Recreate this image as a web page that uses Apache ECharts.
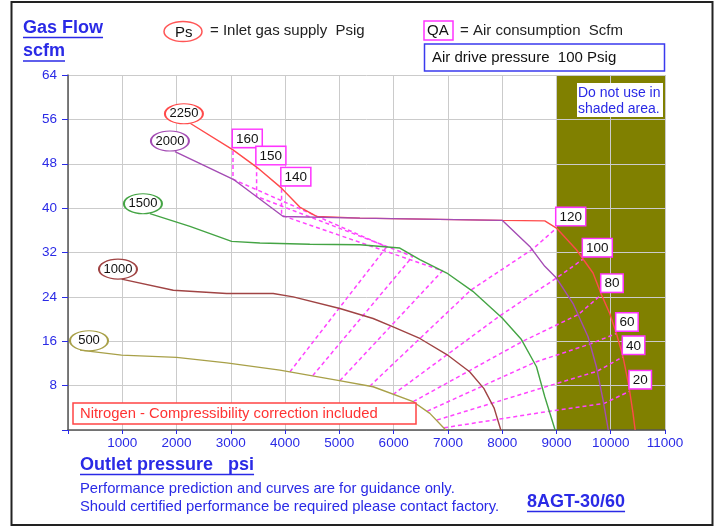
<!DOCTYPE html>
<html><head><meta charset="utf-8">
<script src="https://cdn.jsdelivr.net/npm/echarts@6/dist/echarts.min.js"></script>
<style>html,body{margin:0;padding:0;background:#fff}#c{width:720px;height:527px}</style>
</head><body><div id="c"></div>
<script>
// ---------- DATA ----------
const xMin = 0, xMax = 11000, xStep = 1000;
const yMin = 0, yMax = 64, yStep = 8;
const shadeX = [9000, 11000];

const psValues = [2250, 2000, 1500, 1000, 500];
const psColors = ['#ff4a4a', '#a44cb4', '#44a444', '#a04444', '#a8a048'];
const psLabelPos = [[2136, 57.0], [1878, 52.1], [1381, 40.8], [921, 29.0], [387, 16.1]];

const ps2250 = [[2250,55.3],[3040,50.5],[3475,47.4],[3935,43.6],[4270,40.2],[4580,38.5],[5380,38.2],[8000,37.8],[8785,37.7],[9000,36.4],[9368,32.5],[9674,28.3],[9829,24.4],[9982,21.0],[10105,17.4],[10227,13.2],[10337,7.8],[10411,3.0],[10450,0]];
const ps2000 = [[1971,50.2],[3045,45.2],[3965,38.5],[5380,38.2],[8000,37.8],[8508,33.1],[8785,29.5],[9000,27.4],[9306,22.8],[9582,16.8],[9736,11.4],[9859,5.4],[9955,0]];
const ps1500 = [[1510,39.0],[2247,36.7],[3015,34.0],[3536,33.7],[4457,33.5],[5378,33.4],[6114,32.8],[6483,30.7],[6980,28.3],[7459,25.0],[8000,20.2],[8355,16.3],[8632,11.4],[8785,6.0],[8975,0]];
const ps1000 = [[988,27.2],[1940,25.2],[2922,24.6],[3781,24.6],[4150,24.0],[5009,21.9],[5622,20.1],[5991,18.6],[6483,16.5],[6980,13.6],[7400,10.5],[7661,7.5],[7850,4.0],[7975,0]];
const ps500  = [[221,14.4],[988,13.5],[2000,13.1],[2922,12.1],[3904,10.8],[4948,9.0],[5622,7.8],[6360,5.1],[6667,3.0],[6960,0]];

const qaValues = [160, 150, 140, 120, 100, 80, 60, 40, 20];
const qa160 = [[4090,10.5],[5870,33.0],[3040,45.2],[3040,50.5]];
const qa150 = [[4510,9.8],[6350,31.3],[3475,42.1],[3475,47.4]];
const qa140 = [[5010,8.9],[6900,28.7],[3935,38.7],[3935,43.6]];
const qa120 = [[5560,7.9],[7420,25.2],[8560,32.6],[9000,36.4]];
const qa100 = [[5990,6.4],[7960,20.6],[9000,27.4],[9490,30.8]];
const qa80  = [[6360,5.1],[8380,16.0],[9400,20.8],[9829,24.4]];
const qa60  = [[6620,3.4],[8600,12.2],[9620,15.5],[10105,17.4]];
const qa40  = [[6800,1.8],[8740,7.6],[9752,10.6],[10227,13.2]];
const qa20  = [[6930,0.4],[8880,3.4],[9880,4.8],[10350,7.0]];

// ---------- BUILD ----------
const psCurves = [ps2250, ps2000, ps1500, ps1000, ps500];
const qaLines = [qa160, qa150, qa140, qa120, qa100, qa80, qa60, qa40, qa20];
const BLUE = '#2a2ae6';
const FONT = '"Liberation Sans", Arial, sans-serif';

const series = [];
series.push({
  type: 'line', data: [[shadeX[0], yMax], [shadeX[1], yMax]], symbol: 'none',
  lineStyle: { width: 0 }, areaStyle: { color: '#808000', opacity: 1 }, z: 0, silent: true
});
qaLines.forEach(l => series.push({
  type: 'line', data: l, symbol: 'none', z: 3, silent: true,
  lineStyle: { color: '#ff44ff', width: 1.5, type: [4, 3] }
}));
[0, 1, 2, 3, 4].forEach(i => series.push({
  type: 'line', data: psCurves[i], symbol: 'none', z: 4, silent: true,
  lineStyle: { color: psColors[i], width: 1.4 }
}));
series.push({
  type: 'scatter', z: 5, silent: true, symbol: 'circle', symbolSize: [38, 20],
  data: psLabelPos.map((p, i) => ({
    value: p,
    itemStyle: { color: '#ffffff', borderColor: psColors[i], borderWidth: 1.5, opacity: 1 }
  })),
  label: { show: true, position: 'inside', color: '#111', fontSize: 13, fontFamily: FONT, opacity: 1,
           formatter: p => String(psValues[p.dataIndex]) }
});
series.push({
  type: 'scatter', z: 6, silent: true, symbolSize: 2, itemStyle: { color: 'rgba(0,0,0,0)', opacity: 1 },
  data: qaLines.map(l => l[l.length - 1]),
  label: { show: true, position: [1, -19], align: 'left', verticalAlign: 'top', opacity: 1,
           color: '#111', fontSize: 13.5, fontFamily: FONT, lineHeight: 14,
           padding: [2, 3, 1, 3], backgroundColor: '#ffffff', borderColor: '#ff33ff', borderWidth: 1.5,
           formatter: p => String(qaValues[p.dataIndex]) }
});

const mctx = document.createElement('canvas').getContext('2d');
function tw(t, f) { mctx.font = f; return mctx.measureText(t).width; }
function txt(t, x, y, font, fill, va) {
  return { type: 'text', x: x, y: y, z: 100,
    style: { text: t, font: font, fill: fill, textAlign: 'left', align: 'left',
             textVerticalAlign: va || 'middle', verticalAlign: va || 'middle' } };
}
function uline(x, y, w, c) {
  return { type: 'line', z: 100, shape: { x1: x, y1: y, x2: x + w, y2: y }, style: { stroke: c, lineWidth: 1.5 } };
}
const bF = 'bold 18px ' + FONT;
const nF = '15px ' + FONT;
const fF = '14.8px ' + FONT;
const graphic = [
  { type: 'rect', z: 100, shape: { x: 11.5, y: 2, width: 701, height: 523 }, style: { fill: 'none', stroke: '#222', lineWidth: 2 } },
  txt('Gas Flow', 23, 28, bF, BLUE), uline(23, 37.5, tw('Gas Flow', bF), BLUE),
  txt('scfm', 23, 51, bF, BLUE), uline(23, 61, tw('scfm', bF), BLUE),
  { type: 'ellipse', z: 100, shape: { cx: 183, cy: 31.5, rx: 19, ry: 10 }, style: { fill: '#fff', stroke: '#ff5555', lineWidth: 1.5 } },
  txt('Ps', 175, 33, nF, '#111'),
  txt('= Inlet gas supply  Psig', 210, 31, nF, '#222'),
  { type: 'rect', z: 100, shape: { x: 424, y: 21, width: 29, height: 19 }, style: { fill: '#fff', stroke: '#ff33ff', lineWidth: 1.5 } },
  txt('QA', 427, 31, nF, '#111'),
  txt('= Air consumption  Scfm', 460, 31, nF, '#222'),
  { type: 'rect', z: 100, shape: { x: 424.5, y: 44, width: 240, height: 27 }, style: { fill: '#fff', stroke: '#3a3aee', lineWidth: 1.5 } },
  txt('Air drive pressure  100 Psig', 432, 58, nF, '#111'),
  { type: 'rect', z: 100, shape: { x: 577, y: 83, width: 86, height: 34 }, style: { fill: '#fff' } },
  txt('Do not use in', 578, 93, '14px ' + FONT, BLUE),
  txt('shaded area.', 578, 109, '14px ' + FONT, BLUE),
  { type: 'rect', z: 100, shape: { x: 73, y: 403, width: 343, height: 21 }, style: { fill: '#fff', stroke: '#ff4444', lineWidth: 1.5 } },
  txt('Nitrogen - Compressibility correction included', 80, 414, fF, '#ff3333'),
  txt('Outlet pressure   psi', 80, 465.5, bF, BLUE), uline(80, 474.5, tw('Outlet pressure   psi', bF), BLUE),
  txt('Performance prediction and curves are for guidance only.', 80, 489, fF, BLUE),
  txt('Should certified performance be required please contact factory.', 80, 506.5, fF, BLUE),
  txt('8AGT-30/60', 527, 502, bF, BLUE), uline(527, 511.5, tw('8AGT-30/60', bF), BLUE)
];

const chart = echarts.init(document.getElementById('c'), null, { renderer: 'canvas' });
chart.setOption({
  animation: false,
  backgroundColor: '#fff',
  grid: { left: 68, right: 55, top: 75, bottom: 97, containLabel: false },
  xAxis: {
    type: 'value', min: xMin, max: xMax, interval: xStep, z: 1,
    axisLine: { show: true, onZero: false, lineStyle: { color: '#555', width: 1.5 } },
    axisTick: { show: true, length: 4, lineStyle: { color: BLUE } },
    axisLabel: { color: BLUE, fontSize: 13.5, fontFamily: FONT, margin: 6, formatter: v => v === 0 ? '' : String(v) },
    splitLine: { show: true, lineStyle: { color: '#cbcbcb', width: 1 } }
  },
  yAxis: {
    type: 'value', min: yMin, max: yMax, interval: yStep, z: 1,
    axisLine: { show: true, onZero: false, lineStyle: { color: '#555', width: 1.5 } },
    axisTick: { show: true, length: 6, lineStyle: { color: BLUE } },
    axisLabel: { color: BLUE, fontSize: 13.5, fontFamily: FONT, margin: 11, formatter: v => v === 0 ? '' : String(v) },
    splitLine: { show: true, lineStyle: { color: '#cbcbcb', width: 1 } }
  },
  series: series,
  graphic: graphic
});
</script></body></html>
